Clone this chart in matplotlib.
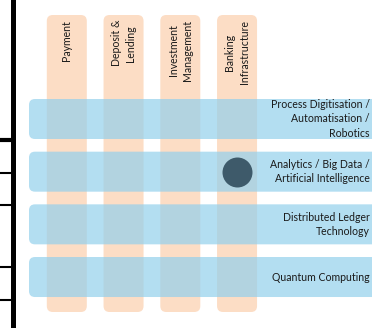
import matplotlib
matplotlib.use("Agg")
import matplotlib.pyplot as plt
import numpy as np
from matplotlib.patches import FancyBboxPatch
from matplotlib.lines import Line2D

# business areas (columns) and technologies (rows)
areas = ["Payment", "Deposit &\nLending", "Investment\nManagement", "Banking\nInfrastructure"]
techs = ["Process Digitisation /\nAutomatisation /\nRobotics",
         "Analytics / Big Data /\nArtificial Intelligence",
         "Distributed Ledger\nTechnology",
         "Quantum Computing"]
# (area index, tech index) pairs that carry a marker
marks_area = [3]
marks_tech = [1]

plt.rcParams['font.family'] = ['Lato', 'DejaVu Sans']

fig = plt.figure(figsize=(3.72, 3.28), dpi=100)
ax = fig.add_axes([0, 0, 1, 1])
ax.axis('off')

# 1 x unit = 56.75 px, 1 y unit = 52.67 px
ux, uy = 56.75, 52.67
ax.set_xlim(-66.8 / ux, (372 - 66.8) / ux)
ax.set_ylim((328 - 119) / uy, -119 / uy)
asp = ux / uy

peach = '#fcddc5'
blue = '#93d0ec'
r = 6 / ux

# columns
col_w = 40 / ux
col_top, col_bot = (15 - 119) / uy, (312 - 119) / uy
for i, name in enumerate(areas):
    x0 = i - col_w / 2
    ax.add_patch(FancyBboxPatch((x0 + r, col_top + r * asp), col_w - 2 * r,
                                col_bot - col_top - 2 * r * asp,
                                boxstyle=f"round,pad={r},rounding_size={r}",
                                mutation_aspect=asp, fc=peach, ec='none', zorder=1))
    ax.text(i, (20 - 119) / uy, name, rotation=90, ha='center', va='top',
            multialignment='center', fontsize=7.6, color='#1a1a1a', linespacing=1.35,
            zorder=5)

# rows
row_h = 40 / uy
row_l, row_r = (29 - 66.8) / ux, 5.6
for j, name in enumerate(techs):
    y0 = j - row_h / 2
    ax.add_patch(FancyBboxPatch((row_l + r, y0 + r * asp), row_r - row_l - 2 * r,
                                row_h - 2 * r * asp,
                                boxstyle=f"round,pad={r},rounding_size={r}",
                                mutation_aspect=asp, fc=blue, ec='none', alpha=0.7,
                                zorder=2))
    ax.text((370 - 66.8) / ux, j, name, ha='right', va='center',
            multialignment='right', fontsize=7.6, color='#1a1a1a', linespacing=1.4,
            zorder=5)

# markers
ax.scatter(marks_area, marks_tech, s=466, color='#3e5a6a', zorder=4, linewidths=0)

# left frame remnants
fig.add_artist(Line2D([12.5 / 372] * 2, [0, 1], color='black', lw=3.6))
for yp, lw in [(140, 3.0), (173, 1.5), (205, 1.5), (267, 1.5), (300, 1.5)]:
    fig.add_artist(Line2D([0, 12.5 / 372], [1 - yp / 328] * 2, color='black', lw=lw))

fig.savefig('out.png', dpi=100)
